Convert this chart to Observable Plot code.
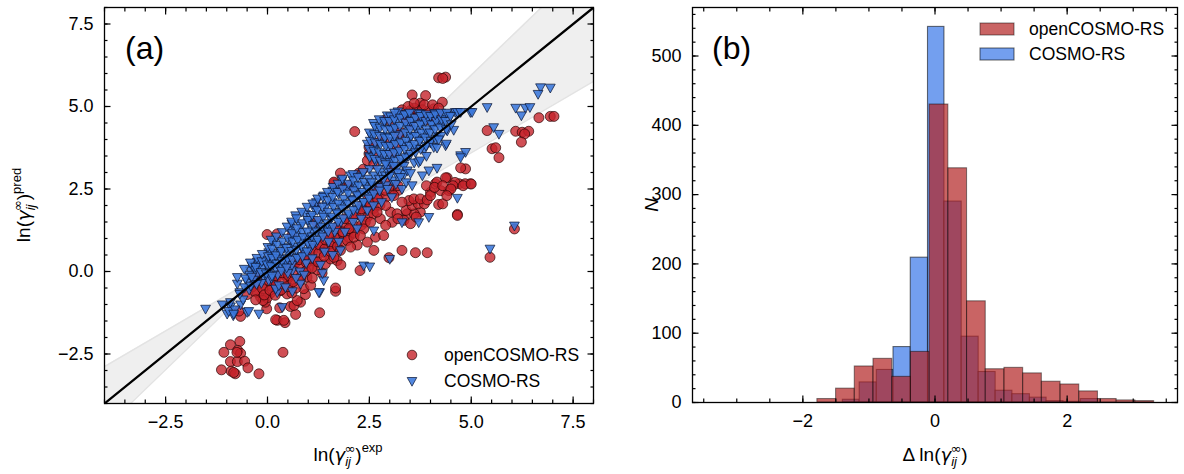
<!DOCTYPE html>
<html>
<head>
<meta charset="utf-8">
<script src="https://cdn.jsdelivr.net/npm/d3@7"></script>
<script src="https://cdn.jsdelivr.net/npm/@observablehq/plot@0.6"></script>
<style>
  html, body { margin: 0; padding: 0; background: white; }
  #wrap { position: relative; width: 1184px; height: 474px; display: flex; }
  #wrap svg { display: block; }
</style>
</head>
<body>
<div id="wrap"><div id="pa"></div><div id="pb"></div></div>
<script>
// ---------- DATA ----------
const seriesNames = ["openCOSMO-RS", "COSMO-RS"];

// panel (a): predicted vs experimental ln(gamma_inf) — openCOSMO-RS
const openPts = [
  [-0.68,-2.12],[-0.91,-2.22],[-1.07,-2.45],[-0.73,-2.39],[-0.66,-2.48],[-0.91,-2.73],[-0.74,-2.73],[-0.56,-2.72],[-0.48,-2.92],[-1.13,-2.98],[-0.89,-3.02],[-0.79,-3.1],[-0.21,-3.1],[0.38,-2.45],[-0.83,-3.06],[-0.75,-2.45],
  [0.24,-1.48],[0.43,-1.55],[0.69,-1.3],[1.28,-1.25],[-0.02,-1.13],[0.3,-1.1],[0.56,-1.06],[0.81,-0.93],[0.93,-0.7],[1.67,-0.6],[-0.66,-1.36],[-0.17,-0.78],[-0.05,-0.93],[0.07,-0.66],[-0.25,-0.63],[0.2,-1.46],[0.4,-1.48],[0.65,-1.03],[0.73,-0.88],[0.89,-0.52],[-0.38,-0.47],[-0.25,-0.27],[-0.01,-0.8],[-0.11,-0.88],[1.06,-0.42],[1.34,-0.05],[1.67,-0.5],[0.32,-0.58],[0.48,-0.68],[0.56,-0.37],[0.81,-0.27],[0.97,-0.17],[1.22,0.05],[1.42,0.23],[1.55,0.38],[1.71,0.33],[1.38,0.58],[1.63,0.69],[1.55,0.84],[1.71,0.99],[-0.7,-1.2],[-0.3,-0.1],[0.1,-0.45],[0.6,-0.65],[1.1,-0.2],[0.15,-0.2],[0.5,-0.2],[0.7,-0.5],[1.0,0.1],[1.2,0.3],[2.27,0.03],[-0.5,-0.7],[-0.3,-0.35],[0.9,0.5],[0.7,0.3],[0.4,-0.1],[0.2,-0.3],[-0.1,-0.4],[1.1,0.7],[1.3,0.8],
  [-0.31,-0.61],[-0.29,-0.86],[-0.12,-0.52],[-0.08,-0.71],[0.06,-0.57],[0.04,-0.28],[0.21,-0.41],[0.19,-0.72],[0.22,-0.13],[0.36,-0.31],[0.33,-0.56],[0.37,-0.04],[0.52,-0.12],[0.49,-0.46],[0.51,0.16],[0.66,-0.06],[0.63,-0.31],[0.67,0.24],[0.79,0.12],[0.82,-0.16],[0.78,0.36],[0.96,0.26],[0.94,0.01],[0.97,0.49],[1.12,0.34],[1.09,0.11],[1.11,0.62],[1.26,0.56],[1.24,0.29],[1.27,0.81],[1.41,0.69],[1.39,0.46],[1.42,0.96],[1.56,0.86],[1.54,0.61],[1.57,1.14],[1.69,1.01],[1.72,0.76],[1.71,1.36],[1.86,1.14],[1.84,0.91],[1.87,1.46],[2.01,1.26],[1.99,1.04],[2.02,1.56],[2.16,1.36],[2.14,1.16],[2.17,1.71],[2.31,1.41],[2.29,1.69],[2.32,2.01],[2.46,1.66],[2.44,1.91],[2.47,2.19],[2.61,1.91],[2.59,2.16],[2.62,2.41],[2.76,2.01],[2.74,2.31],[2.77,2.61],[2.91,2.26],[2.89,2.46],[3.06,2.36],[3.04,2.61],[3.21,2.46],
  [-0.01,1.12],[0.24,1.14],[1.18,2.03],[1.64,2.68],[2.14,4.24],
  [1.5,1.1],[1.7,1.3],[1.9,1.6],[2.1,1.7],[2.3,1.9],[2.5,2.1],[2.7,2.5],[2.9,2.7],[3.2,2.6],[2.6,1.75],[1.2,1.5],[0.6,1.1],[1.85,1.2],[2.2,0.8],[2.4,1.5],[2.0,1.3],[1.8,0.2],
  [1.96,0.94],[1.79,0.64],[1.63,0.43],[2.12,1.04],[2.36,1.29],[2.53,1.49],[2.77,1.6],[3.02,1.8],[3.06,1.49],[3.18,1.75],[3.43,1.75],[3.75,1.8],[2.61,0.64],[3.3,0.64],[3.63,0.57],[3.92,0.57],[2.98,0.42],[2.65,1.04],[2.85,1.09],[2.45,0.89],[2.28,1.09],[2.04,0.74],[2.69,1.8],[3.35,1.55],[3.51,1.45],[3.6,1.75],[2.9,1.4],
  [3.2,1.6],[3.4,1.85],[3.55,2.0],[3.7,2.05],[3.85,2.05],[3.65,1.65],
  [4.12,2.66],[4.41,2.84],[4.7,2.66],[4.98,2.66],[4.25,2.45],[4.45,2.45],[4.0,2.4],[4.2,2.03],[4.66,1.73],[3.47,2.15],[3.59,2.2],[3.75,2.2],[3.92,2.17],[4.0,2.3],[4.16,2.71],[4.3,2.05],[4.37,2.84],[4.86,3.11],[4.74,3.14],[4.6,2.7],[3.3,2.1],[3.1,2.3],[2.9,2.0],[2.7,2.2],[3.9,2.6],[4.55,2.6],[4.85,2.66],
  [4.1,2.55],[4.3,2.6],[4.5,2.5],[4.8,2.6],[5.0,2.65],[4.4,2.3],
  [4.2,5.87],[4.37,5.89],[4.3,5.85],[3.55,5.35],[3.88,5.33],[3.75,5.1],[4.29,5.13],[2.49,3.77],[1.79,2.98],[2.24,2.98],[3.02,3.16],[3.51,4.88],[3.67,4.88],[3.35,4.73],[4.0,4.68],[3.06,4.37],[3.26,4.22],[2.98,3.92],[3.18,3.75],[3.06,3.57],[2.49,3.57],[2.45,3.36],[2.61,3.26],[3.22,4.12],[4.08,4.93],[4.16,4.78],[1.63,2.71],[1.83,2.56],[3.6,4.95],[3.8,4.9],[3.95,4.85],[3.4,4.6],[2.7,3.45],[2.35,3.1],[2.0,2.6],[3.85,5.05],
  [3.1,4.7],[3.3,4.9],[3.45,5.0],[3.7,4.7],[3.9,4.6],[4.05,5.05],[4.2,4.95],[3.5,4.45],[2.8,4.0],[2.6,3.9],[2.9,4.6],[3.6,5.1],
  [5.39,4.27],[6.09,4.25],[6.25,4.22],[6.41,4.25],[6.31,4.17],[6.23,3.92],[6.66,4.66],[6.94,4.7],[7.03,4.7],[5.51,3.72],[5.6,3.75],[5.68,3.45],[6.06,1.29],[5.46,0.43],[4.66,1.7]
];

// COSMO-RS
const cosmoPts = [
  [-1.52,-1.13],[-1.11,-1.0],[-0.99,-1.28],[-0.84,-1.33],[-0.91,-1.06],[-0.66,-1.0],[-0.5,-1.23],[-0.21,-1.28],[-0.74,-0.37],[-0.68,-0.63],[-0.74,-0.17],[-0.95,-1.2],[-0.8,-1.15],[-0.6,-0.85],[-0.45,-0.55],[-0.91,-0.93],[-0.83,-1.28],[-0.46,-1.2],[-0.68,-0.68],[0.36,-1.08],[0.24,-0.63],[0.61,-0.6],[1.28,-0.63],
  [-0.42,0.03],[-0.38,0.18],[-0.25,-0.07],[-0.09,-0.17],[0.03,-0.27],[0.2,-0.52],[0.28,-0.42],[0.44,-0.48],[0.61,0.03],[0.81,-0.37],[1.26,-0.63],[1.38,-0.27],
  [-0.5,-0.3],[-0.35,-0.25],[-0.3,0.05],[-0.2,0.2],[-0.15,-0.35],[-0.1,0.1],[0.0,0.35],[0.05,0.0],[0.1,-0.2],[0.1,0.25],[0.15,0.55],[0.2,0.1],[0.25,-0.1],[0.3,0.4],[0.35,0.15],[0.4,0.75],[0.45,0.3],[0.5,-0.05],[0.5,0.55],[0.55,0.95],[0.16,0.89],[0.32,0.58],[0.03,0.58],[-0.05,0.28],[-0.45,-0.1],[-0.25,0.3],
  [0.56,1.24],[0.6,0.2],[0.65,0.75],[0.69,1.7],[0.7,1.1],[0.75,0.45],[0.8,0.0],[0.8,0.9],[0.81,1.39],[0.85,1.2],[0.9,0.6],[0.93,1.75],[0.95,0.25],[1.0,1.0],[1.0,1.5],[0.7,-0.2],[0.6,1.45],[0.9,-0.1],
  [1.05,0.7],[1.06,1.65],[1.1,1.25],[1.1,0.4],[1.15,1.9],[1.2,0.9],[1.25,1.45],[1.3,0.2],[1.3,1.15],[1.35,1.75],[1.38,2.3],[1.4,0.6],[1.45,1.3],[1.45,2.0],[1.5,0.9],[1.2,2.1],[1.35,-0.05],
  [1.55,1.6],[1.59,2.1],[1.6,0.5],[1.65,1.2],[1.7,1.8],[1.75,2.35],[1.75,0.9],[1.79,0.64],[1.8,1.5],[1.83,2.76],[1.85,2.05],[1.9,1.2],[1.95,2.5],[2.0,1.7],[1.6,2.45],
  [2.04,2.91],[2.05,2.2],[2.1,1.5],[2.15,2.6],[2.2,1.9],[2.25,2.35],[2.3,1.6],[2.3,2.9],[2.35,2.1],[2.4,2.6],[2.45,1.85],[2.5,2.3],[2.5,3.1],[2.2,1.3],[2.36,0.18],[2.51,0.15],[2.61,1.24],[2.1,2.95],
  [-0.56,-0.48],[-0.54,-0.21],[-0.57,0.08],[-0.41,-0.43],[-0.39,-0.16],[-0.42,0.27],[-0.27,-0.38],[-0.29,0.14],[-0.26,0.41],[-0.16,-0.02],[-0.14,0.31],[-0.13,0.53],[-0.03,-0.06],[-0.01,0.21],[0.02,0.46],[0.01,0.74],[0.11,-0.13],[0.09,0.16],[0.12,0.41],[0.11,0.69],[0.09,0.96],[0.23,0.24],[0.21,0.49],[0.24,0.81],[0.22,1.06],[0.34,0.02],[0.36,0.31],[0.34,0.62],[0.37,0.91],[0.36,1.19],[0.47,0.12],[0.49,0.39],[0.47,0.71],[0.49,1.02],[0.48,1.36],[0.61,0.36],[0.59,0.62],[0.62,0.91],[0.61,1.16],[0.59,1.51],[0.73,0.41],[0.71,0.66],[0.74,0.96],[0.72,1.31],[0.71,1.61],[0.86,0.46],[0.84,0.76],[0.87,1.04],[0.86,1.46],[0.84,1.81],[0.97,0.61],[0.99,0.86],[0.98,1.21],[0.99,1.56],[0.97,1.96],[1.11,0.81],[1.09,1.06],[1.12,1.41],[1.1,1.71],[1.11,2.06],[1.23,0.96],[1.21,1.21],[1.24,1.56],[1.22,1.86],[1.23,2.21],[1.36,1.06],[1.34,1.36],[1.37,1.66],[1.35,1.96],[1.36,2.26],[1.49,1.21],[1.47,1.46],[1.49,1.81],[1.48,2.16],[1.47,2.41],[1.61,1.36],[1.59,1.66],[1.62,1.96],[1.6,2.26],[1.61,2.56],[1.73,1.51],[1.71,1.76],[1.74,2.06],[1.72,2.41],[1.73,2.66],[1.86,1.61],[1.84,1.91],[1.87,2.21],[1.85,2.51],[1.84,2.81],[1.99,1.76],[1.97,2.06],[1.98,2.36],[1.99,2.66],[2.11,1.86],[2.09,2.16],[2.12,2.46],[2.11,2.76],[2.23,2.01],[2.21,2.31],[2.24,2.61],[2.22,2.86],[2.36,2.11],[2.34,2.41],[2.37,2.71],[2.35,3.01],[2.49,2.21],[2.47,2.51],[2.48,2.81],[2.61,2.36],[2.59,2.61],[2.62,2.91],[2.76,2.56],[2.74,2.81],[2.77,3.01],[2.91,2.61],[2.89,2.91],[2.92,3.11],[3.06,2.76],[3.04,3.01],[3.21,2.86],[3.19,3.16],[3.36,2.96],[3.34,3.31],
  [2.45,3.87],[2.5,3.5],[2.55,4.1],[2.6,3.7],[2.65,3.35],[2.7,4.3],[2.75,3.9],[2.8,3.55],[2.85,4.5],[2.9,4.1],[2.94,4.73],[2.95,3.75],[3.0,3.4],[3.02,4.7],[3.05,4.3],[3.1,3.95],[3.15,4.55],[3.2,3.6],[3.25,4.15],[3.3,4.75],[3.35,3.85],[3.4,4.4],[3.43,4.78],[3.45,3.5],[3.5,4.05],[3.55,4.6],[3.6,3.75],[3.65,4.3],[3.7,4.8],[3.75,4.0],[3.75,4.78],[3.8,4.5],[3.85,3.7],[3.9,4.2],[3.95,4.65],[4.0,3.9],[4.05,4.45],[4.1,4.8],[4.15,4.1],[4.2,4.6],[4.29,4.48],[4.37,4.76],[4.41,4.27],[4.5,4.75],[4.57,4.29],[4.61,4.83],[4.66,4.83],[4.74,4.83],[4.98,4.83],[5.02,4.83],[2.6,4.5],[3.2,4.85],
  [2.51,3.46],[2.49,3.71],[2.52,3.96],[2.5,4.21],[2.63,3.41],[2.61,3.66],[2.64,3.91],[2.62,4.16],[2.63,4.41],[2.76,3.36],[2.74,3.61],[2.77,3.86],[2.75,4.11],[2.76,4.36],[2.74,4.61],[2.89,3.31],[2.87,3.56],[2.9,3.81],[2.88,4.06],[2.89,4.31],[2.87,4.56],[3.01,3.31],[2.99,3.56],[3.02,3.81],[3.0,4.06],[3.01,4.31],[2.99,4.56],[3.13,3.36],[3.11,3.61],[3.14,3.86],[3.12,4.11],[3.13,4.36],[3.11,4.61],[3.12,4.81],[3.26,3.41],[3.24,3.66],[3.27,3.91],[3.25,4.41],[3.26,4.66],[3.39,3.46],[3.37,3.71],[3.4,3.96],[3.38,4.21],[3.39,4.51],[3.37,4.76],[3.51,3.56],[3.49,3.81],[3.52,4.11],[3.5,4.31],[3.51,4.56],[3.49,4.81],[3.63,3.61],[3.61,3.86],[3.64,4.11],[3.62,4.41],[3.63,4.66],[3.76,3.71],[3.74,3.96],[3.77,4.21],[3.75,4.46],[3.76,4.71],[3.89,3.81],[3.87,4.06],[3.9,4.31],[3.88,4.56],[3.89,4.76],[4.01,3.96],[3.99,4.21],[4.02,4.46],[4.0,4.71],[4.13,4.01],[4.11,4.31],[4.14,4.56],[4.12,4.76],[4.26,4.11],[4.24,4.36],[4.27,4.61],[4.25,4.81],[4.39,4.31],[4.37,4.56],[4.4,4.81],[4.51,4.46],[4.49,4.71],
  [2.55,2.7],[2.6,2.0],[2.7,3.1],[2.75,2.45],[2.8,2.1],[2.85,2.8],[2.9,3.25],[2.95,2.5],[3.0,2.9],[3.05,2.25],[3.1,3.2],[3.15,2.65],[3.2,3.0],[3.26,2.86],[3.3,2.5],[3.35,3.2],[3.4,2.7],[3.43,3.06],[3.51,2.98],[3.55,2.61],[3.6,3.3],[3.71,3.31],[3.8,2.91],[3.75,3.36],
  [3.96,3.06],[4.16,3.14],[4.08,3.77],[4.16,3.75],[4.37,3.82],[4.39,3.87],[4.74,3.52],[4.86,3.62],[4.74,3.46],[4.66,2.23],[3.3,1.49],[3.71,1.49],[3.96,1.65],[3.0,0.38],[3.9,3.5],[4.2,4.0],
  [6.7,5.58],[6.94,5.57],[6.64,5.38],[5.39,4.98],[6.09,4.96],[6.33,4.96],[6.44,4.98],[6.23,4.73],[5.55,4.37],[5.68,4.17],[6.06,1.39],[5.46,0.69]
];

// parity line and shaded slope band
const parityX = [-4, 8];
const bandX = [-4, 0, 8];
const bandSlopes = [0.72, 1.19];

// panel (b): histogram of deviations
const openEdges  = [-1.78,-1.497,-1.214,-0.931,-0.647,-0.364,-0.081,0.202,0.485,0.768,1.051,1.334,1.617,1.9,2.183,2.466,2.749,3.032,3.316];
const openCounts = [5,20,52,63,37,73,430,338,146,48,50,42,30,26,16,5,3,2];
const cosmoEdges  = [-1.395,-1.14,-0.881,-0.628,-0.367,-0.106,0.143,0.404,0.661,0.918,1.172,1.436,1.689,1.945,2.207,2.47];
const cosmoCounts = [4,29,47,80,209,542,290,95,44,17,12,7,2,1,5];

// ticks
const aMajor = [-2.5, 0, 2.5, 5, 7.5];
const aMinor = d3.range(-4, 8.01, 0.5);
const bxMajor = [-2, 0, 2];
const bxMinor = d3.range(-3.5, 3.51, 0.5);
const byMajor = [0, 100, 200, 300, 400, 500];
const byMinor = d3.range(0, 561, 20);

// ---------- STYLE ----------
const FONT = "'Liberation Sans', Arial, Helvetica, sans-serif";
const RED = "#c4232b", RED_H = "firebrick", BLUE_PT = "#3a78dc", BLUE_H = "#6495ed";
const minus = s => String(s).replace("-", "\u2212");

const triDown = { draw(c, size) { const r = Math.sqrt(size / Math.PI); c.moveTo(-r, -r * 0.72); c.lineTo(r, -r * 0.72); c.lineTo(0, r * 1.08); c.closePath(); } };

function frameAxes(xMaj, xMin, yMaj, yMin, xFmt, yFmt, fs) {
  const tk = { stroke: "black", strokeWidth: 1.2, label: null };
  return [
    Plot.axisX(xMaj, { ...tk, anchor: "bottom", tickSize: -6.5, fill: "none" }),
    Plot.axisX(xMaj, { ...tk, anchor: "top", tickSize: -6.5, fill: "none" }),
    Plot.axisX(xMin, { ...tk, anchor: "bottom", tickSize: -3.5, fill: "none" }),
    Plot.axisX(xMin, { ...tk, anchor: "top", tickSize: -3.5, fill: "none" }),
    Plot.axisY(yMaj, { ...tk, anchor: "left", tickSize: -6.5, fill: "none" }),
    Plot.axisY(yMaj, { ...tk, anchor: "right", tickSize: -6.5, fill: "none" }),
    Plot.axisY(yMin, { ...tk, anchor: "left", tickSize: -3.5, fill: "none" }),
    Plot.axisY(yMin, { ...tk, anchor: "right", tickSize: -3.5, fill: "none" }),
    Plot.axisX(xMaj, { anchor: "bottom", tickSize: 0, tickPadding: 12, tickFormat: xFmt, fontSize: fs, fill: "black", label: null }),
    Plot.axisY(yMaj, { anchor: "left", tickSize: 0, tickPadding: 11, tickFormat: yFmt, fontSize: fs, fill: "black", label: null }),
    Plot.frame({ stroke: "black", strokeWidth: 1.3 })
  ];
}

function mathLabel(svg, x, y, rot, size, parts) {
  const t = d3.select(svg).append("text")
    .attr("transform", `translate(${x},${y}) rotate(${rot})`)
    .attr("text-anchor", "middle").attr("font-family", FONT)
    .attr("font-size", size).attr("fill", "black");
  for (const p of parts) {
    const s = t.append("tspan").text(p.t);
    if (p.it) s.attr("font-style", "italic");
    if (p.fam) s.attr("font-family", p.fam);
    if (p.size) s.attr("font-size", p.size);
    if (p.dx) s.attr("dx", p.dx);
    if (p.dy) s.attr("dy", p.dy);
  }
}
const gammaParts = [
  { t: "ln(" }, { t: "\u03b3", it: true, fam: "'DejaVu Sans', sans-serif", size: 18 },
  { t: "ij", it: true, size: 13, dy: 5 },
  { t: "\u221e", size: 13, fam: "'DejaVu Sans', sans-serif", dx: -6.5, dy: -13 },
  { t: ")", size: 19, dy: 8 }
];

const FS = 18;
function plainText(svg, x, y, size, str) {
  return d3.select(svg).append("text").attr("x", x).attr("y", y)
    .attr("text-anchor", "start").attr("font-family", FONT).attr("font-size", size).attr("fill", "black").text(str);
}

// ---------- PANEL (a) ----------
const bandData = bandX.map(x => ({ x, lo: bandSlopes[0] * x, hi: bandSlopes[1] * x }));
const svgA = Plot.plot({
  width: 600, height: 474,
  marginLeft: 104, marginRight: 7, marginTop: 7, marginBottom: 71,
  x: { domain: [-4, 8] }, y: { domain: [-4, 8] },
  style: { fontFamily: FONT, background: "white", color: "black" },
  marks: [
    Plot.areaY(bandData, { x: "x", y1: "lo", y2: "hi", fill: "#efefef", clip: true }),
    Plot.line(bandData, { x: "x", y: "lo", stroke: "#e3e3e3", strokeWidth: 1.5, clip: true }),
    Plot.line(bandData, { x: "x", y: "hi", stroke: "#e3e3e3", strokeWidth: 1.5, clip: true }),
    Plot.dot(openPts, { x: d => d[0], y: d => d[1], r: 5, fill: RED, fillOpacity: 0.8, stroke: "#200", strokeOpacity: 0.75, strokeWidth: 0.9 }),
    Plot.dot(cosmoPts, { x: d => d[0], y: d => d[1], r: 4.9, symbol: triDown, fill: BLUE_PT, fillOpacity: 0.88, stroke: "#0b1633", strokeOpacity: 0.8, strokeWidth: 0.9 }),
    Plot.line(parityX, { x: d => d, y: d => d, stroke: "black", strokeWidth: 2.3, clip: true }),
    ...frameAxes(aMajor, aMinor, aMajor, aMinor, d => minus(d.toFixed(1)), d => minus(d.toFixed(1)), FS)
  ]
});
document.getElementById("pa").appendChild(svgA);
mathLabel(svgA, 348, 461, 0, 19, [...gammaParts, { t: "exp", size: 13, dy: -9 }]);
mathLabel(svgA, 30, 205, -90, 19, [...gammaParts, { t: "pred", size: 13, dy: -9 }]);
plainText(svgA, 125, 59, 32, "(a)");
// legend (a)
{
  const g = d3.select(svgA).append("g");
  g.append("circle").attr("cx", 412).attr("cy", 355).attr("r", 4.8).attr("fill", RED).attr("fill-opacity", 0.8).attr("stroke", "#200").attr("stroke-opacity", 0.75).attr("stroke-width", 0.9);
  plainText(svgA, 444, 361, 17.5, seriesNames[0]);
  g.append("path").attr("transform", "translate(412,381)").attr("d", "M-4.8,-3.5L4.8,-3.5L0,5.2Z").attr("fill", BLUE_PT).attr("fill-opacity", 0.88).attr("stroke", "#0b1633").attr("stroke-opacity", 0.8).attr("stroke-width", 0.9);
  plainText(svgA, 444, 387, 17.5, seriesNames[1]);
}

// ---------- PANEL (b) ----------
const openHist = openCounts.map((n, i) => ({ x1: openEdges[i], x2: openEdges[i + 1], n }));
const cosmoHist = cosmoCounts.map((n, i) => ({ x1: cosmoEdges[i], x2: cosmoEdges[i + 1], n }));
const svgB = Plot.plot({
  width: 584, height: 474,
  marginLeft: 92, marginRight: 7, marginTop: 7, marginBottom: 72,
  x: { domain: [-3.67, 3.67] }, y: { domain: [0, 570] },
  style: { fontFamily: FONT, background: "white", color: "black" },
  marks: [
    Plot.rectY(cosmoHist, { x1: "x1", x2: "x2", y: "n", fill: BLUE_H, fillOpacity: 0.9, stroke: "black", strokeOpacity: 0.55, strokeWidth: 1.1 }),
    Plot.rectY(openHist, { x1: "x1", x2: "x2", y: "n", fill: RED_H, fillOpacity: 0.7, stroke: "black", strokeOpacity: 0.45, strokeWidth: 1.1 }),
    ...frameAxes(bxMajor, bxMinor, byMajor, byMinor, d => minus(d), d => String(d), FS)
  ]
});
document.getElementById("pb").appendChild(svgB);
mathLabel(svgB, 335, 461, 0, 19, [{ t: "\u0394 " }, ...gammaParts]);
mathLabel(svgB, 58, 205, -90, 19, [{ t: "N", it: true }]);
plainText(svgB, 112, 59, 32, "(b)");
{
  const g = d3.select(svgB).append("g");
  g.append("rect").attr("x", 380).attr("y", 23).attr("width", 34).attr("height", 12).attr("fill", RED_H).attr("fill-opacity", 0.7).attr("stroke", "black").attr("stroke-opacity", 0.45).attr("stroke-width", 1.1);
  plainText(svgB, 429, 35, 17.5, seriesNames[0]);
  g.append("rect").attr("x", 380).attr("y", 48).attr("width", 34).attr("height", 12).attr("fill", BLUE_H).attr("fill-opacity", 0.9).attr("stroke", "black").attr("stroke-opacity", 0.55).attr("stroke-width", 1.1);
  plainText(svgB, 429, 60, 17.5, seriesNames[1]);
}
</script>
</body>
</html>
